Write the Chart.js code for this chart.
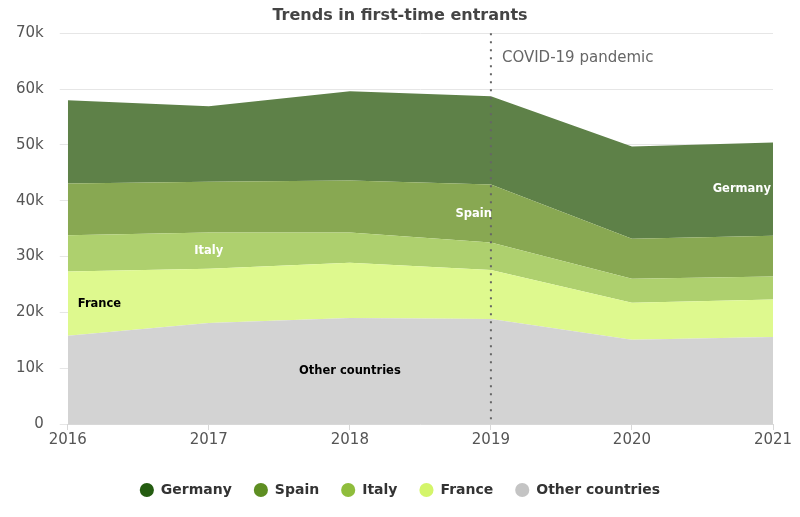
<!DOCTYPE html>
<html>
<head>
<meta charset="utf-8">
<script src="https://cdn.jsdelivr.net/npm/chart.js@4"></script>
<style>
  html, body { margin: 0; padding: 0; background: #fff; }
  #wrap { width: 800px; height: 517px; }
</style>
</head>
<body>
<div id="wrap"><canvas id="chart" width="800" height="517"></canvas></div>
<script>
// 数据（单位：人）
const years = ['2016', '2017', '2018', '2019', '2020', '2021'];
const otherCountries = [15800, 18100, 19000, 18800, 15100, 15600];
const france = [11500, 9700, 9900, 8800, 6600, 6700];
const italy = [6500, 6500, 5400, 4900, 4300, 4100];
const spain = [9300, 9100, 9300, 10400, 7200, 7300];
const germany = [14900, 13500, 16000, 15800, 16500, 16700];

const covidYear = '2019';
const covidText = 'COVID-19 pandemic';

// 区域内的系列标签
const bandLabels = {
    'Other countries': { index: 2, align: 'center', dx: 0, color: '#000' },
    'France': { index: 0, align: 'left', dx: 10, color: '#000' },
    'Italy': { index: 1, align: 'center', dx: 0, color: '#fff' },
    'Spain': { index: 3, align: 'right', dx: 1, color: '#fff' },
    'Germany': { index: 5, align: 'right', dx: -2, color: '#fff' }
};

const FONT = '"DejaVu Sans", Verdana, sans-serif';

// 标题和图例居中到整个画布
const centerPlugin = {
    id: 'centerBoxes',
    afterLayout(chart) {
        const shift = (chart.width - (chart.legend.right - chart.legend.left)) / 2 - chart.legend.left;
        [chart.legend, chart.titleBlock].forEach(box => {
            box.left += shift;
            box.right += shift;
        });
    }
};

// 虚线 + 区域标签
const overlayPlugin = {
    id: 'overlay',
    afterDatasetsDraw(chart) {
        const ctx = chart.ctx;
        const area = chart.chartArea;
        const x = chart.scales.x.getPixelForValue(years.indexOf(covidYear));

        ctx.save();
        ctx.strokeStyle = '#666';
        ctx.lineWidth = 2;
        ctx.setLineDash([2, 6]);
        ctx.beginPath();
        ctx.moveTo(x, area.top);
        ctx.lineTo(x, area.bottom);
        ctx.stroke();
        ctx.setLineDash([]);

        ctx.fillStyle = '#666';
        ctx.font = '15px ' + FONT;
        ctx.textAlign = 'left';
        ctx.textBaseline = 'middle';
        ctx.fillText(covidText, x + 11, area.top + 25);

        ctx.font = 'bold 11.5px ' + FONT;
        chart.data.datasets.forEach((ds, i) => {
            const cfg = bandLabels[ds.label];
            if (!cfg) return;
            const pt = chart.getDatasetMeta(i).data[cfg.index];
            const bottom = i === 0
                ? chart.scales.y.getPixelForValue(0)
                : chart.getDatasetMeta(i - 1).data[cfg.index].y;
            const y = (pt.y + bottom) / 2;
            ctx.textAlign = cfg.align;
            ctx.fillStyle = cfg.color;
            ctx.fillText(ds.label, pt.x + cfg.dx, y);
        });
        ctx.restore();
    }
};

function area(label, data, fillColor, legendColor, fill) {
    return {
        label: label,
        data: data,
        backgroundColor: fillColor,
        legendColor: legendColor,
        borderWidth: 0,
        pointRadius: 0,
        fill: fill,
        tension: 0
    };
}

new Chart(document.getElementById('chart').getContext('2d'), {
    type: 'line',
    data: {
        labels: years,
        datasets: [
            area('Other countries', otherCountries, '#d3d3d3', '#c4c4c4', 'origin'),
            area('France', france, '#def98e', '#d4f56a', '-1'),
            area('Italy', italy, '#aed06e', '#8fbd3c', '-1'),
            area('Spain', spain, '#88a852', '#5e8e22', '-1'),
            area('Germany', germany, '#5e8148', '#245c10', '-1')
        ]
    },
    options: {
        responsive: false,
        animation: false,
        layout: { padding: { left: 0, right: 27, top: 0, bottom: 10 } },
        scales: {
            x: {
                grid: { drawOnChartArea: false, drawTicks: true, tickLength: 6, color: '#d8d8d8' },
                border: { color: '#d8d8d8' },
                ticks: { color: '#555', font: { family: FONT, size: 15 }, padding: 1, maxRotation: 0 },
                afterFit(scale) { scale.height += 11; }
            },
            y: {
                stacked: true,
                min: 0,
                max: 70000,
                grid: { color: '#e6e6e6', tickLength: 8 },
                border: { display: false },
                ticks: {
                    stepSize: 10000,
                    color: '#555',
                    padding: 16,
                    font: { family: FONT, size: 15 },
                    callback: v => v === 0 ? '0' : (v / 1000) + 'k'
                }
            }
        },
        plugins: {
            title: {
                display: true,
                text: 'Trends in first-time entrants',
                color: '#444',
                font: { family: FONT, size: 16, weight: 'bold' },
                padding: { top: 6, bottom: 8 }
            },
            legend: {
                position: 'bottom',
                reverse: true,
                labels: {
                    usePointStyle: true,
                    pointStyle: 'circle',
                    boxHeight: 10,
                    padding: 22,
                    color: '#333',
                    font: { family: FONT, size: 14, weight: 'bold' },
                    generateLabels(chart) {
                        return chart.data.datasets.map((ds, i) => ({
                            text: ds.label,
                            fillStyle: ds.legendColor,
                            strokeStyle: ds.legendColor,
                            lineWidth: 0,
                            pointStyle: 'circle',
                            fontColor: '#333',
                            datasetIndex: i,
                            hidden: false
                        }));
                    }
                }
            },
            tooltip: { enabled: false }
        }
    },
    plugins: [centerPlugin, overlayPlugin]
});
</script>
</body>
</html>
